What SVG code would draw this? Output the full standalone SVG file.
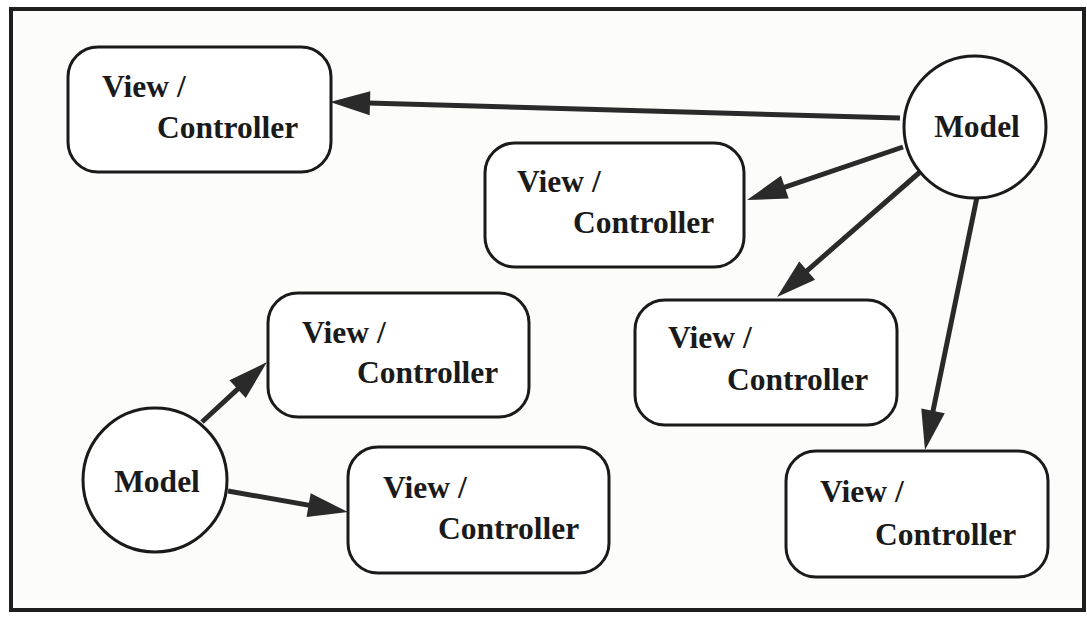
<svg xmlns="http://www.w3.org/2000/svg" width="1087" height="621" viewBox="0 0 1087 621">
  <style>
    .frame { fill: #fcfcfb; stroke: #1e1e1e; stroke-width: 4; }
    .box { fill: #ffffff; stroke: #1a1a1a; stroke-width: 3; }
    .model { fill: #ffffff; stroke: #1a1a1a; stroke-width: 3; }
    .lbl { font-family: "Liberation Serif", "Times New Roman", serif; font-weight: bold; font-size: 31.5px; fill: #1a1a1a; }
    .mid { text-anchor: middle; }
    .link { fill: none; stroke: #2a2a2a; stroke-width: 5; }
  </style>
  <defs>
    <marker id="head" markerUnits="userSpaceOnUse" markerWidth="42" markerHeight="24" refX="20" refY="12" orient="auto" overflow="visible">
      <path d="M0,0 L40,12 L0,24 Z" fill="#2a2a2a"/>
    </marker>
  </defs>

  <rect class="frame" x="11" y="9" width="1073" height="601"/>

  <!-- connectors: each Model notifies its View / Controller pairs -->
  <g id="connectors">
    <line class="link" x1="900" y1="118" x2="350" y2="102.6" marker-end="url(#head)"/>
    <line class="link" x1="903" y1="147" x2="765.9" y2="193.6" marker-end="url(#head)"/>
    <line class="link" x1="920" y1="172" x2="792.1" y2="283.8" marker-end="url(#head)"/>
    <line class="link" x1="977" y1="197" x2="929" y2="430.4" marker-end="url(#head)"/>
    <line class="link" x1="202" y1="422" x2="252.3" y2="375.6" marker-end="url(#head)"/>
    <line class="link" x1="228" y1="491" x2="328.3" y2="508.6" marker-end="url(#head)"/>
  </g>

  <g id="vc1">
    <rect class="box" x="68" y="47" width="263" height="125" rx="30"/>
    <text class="lbl" x="102" y="97">View /</text>
    <text class="lbl" x="157" y="138">Controller</text>
  </g>
  <g id="vc2">
    <rect class="box" x="485" y="143" width="259" height="124" rx="30"/>
    <text class="lbl" x="517" y="192">View /</text>
    <text class="lbl" x="573" y="233">Controller</text>
  </g>
  <g id="vc3">
    <rect class="box" x="635" y="300" width="262" height="125" rx="30"/>
    <text class="lbl" x="668" y="348">View /</text>
    <text class="lbl" x="727" y="390">Controller</text>
  </g>
  <g id="vc4">
    <rect class="box" x="786" y="451" width="262" height="126" rx="30"/>
    <text class="lbl" x="820" y="502">View /</text>
    <text class="lbl" x="875" y="545">Controller</text>
  </g>
  <g id="vc5">
    <rect class="box" x="268" y="293" width="261" height="124" rx="30"/>
    <text class="lbl" x="302" y="343">View /</text>
    <text class="lbl" x="357" y="383">Controller</text>
  </g>
  <g id="vc6">
    <rect class="box" x="348" y="447" width="261" height="126" rx="30"/>
    <text class="lbl" x="383" y="498">View /</text>
    <text class="lbl" x="438" y="539">Controller</text>
  </g>

  <g id="model-right">
    <circle class="model" cx="975" cy="127" r="71"/>
    <text class="lbl mid" x="977" y="137">Model</text>
  </g>
  <g id="model-left">
    <circle class="model" cx="155" cy="480" r="72"/>
    <text class="lbl mid" x="157" y="492">Model</text>
  </g>
</svg>
